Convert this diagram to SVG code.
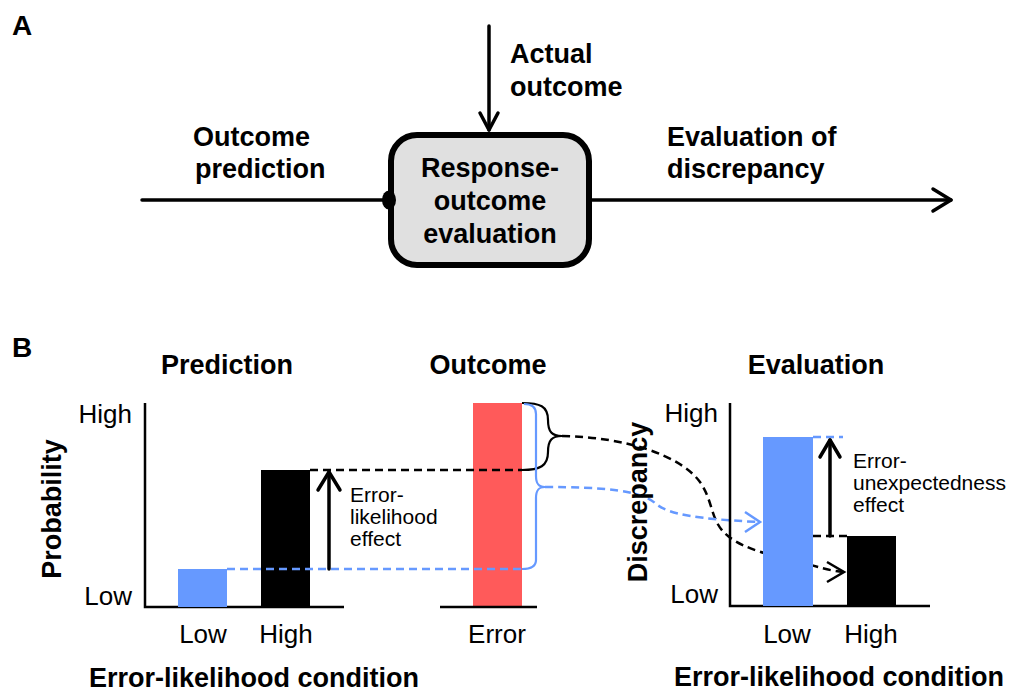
<svg xmlns="http://www.w3.org/2000/svg" width="1019" height="694" viewBox="0 0 1019 694">
<style>
text{font-family:"Liberation Sans",Arial,sans-serif;fill:#000}
.b{font-weight:bold;font-size:27px}
.lbl{font-size:26px}
.sm{font-size:21px}
.mid{text-anchor:middle}
.end{text-anchor:end}
.ln{fill:none;stroke:#000;stroke-width:3.5;stroke-linecap:round;stroke-linejoin:round}
.ax{fill:none;stroke:#000;stroke-width:2.5}
.dk{fill:none;stroke:#000;stroke-width:2.5;stroke-dasharray:8 5}
.db{fill:none;stroke:#6699ff;stroke-width:2.5;stroke-dasharray:8 5}
.thin{fill:none;stroke:#000;stroke-width:2.2}
.thinb{fill:none;stroke:#6699ff;stroke-width:2.2}
.blue{fill:#6699ff}
.red{fill:#ff5a5a}
</style>
<rect width="1019" height="694" fill="#fff"/>

<!-- Panel A -->
<text class="b" x="12" y="35" style="font-size:28px">A</text>
<g id="connectors-a">
  <path class="ln" d="M142,200 H388"/>
  <path class="ln" d="M592,200 H951"/>
  <path class="ln" d="M933,189 L951,200 L933,211"/>
  <path class="ln" d="M489,26 V130"/>
  <path class="ln" d="M480,113 L489,130 L498,113"/>
</g>
<g id="node-evaluation">
  <rect x="391" y="135" width="198" height="130" rx="26" fill="#e0e0e0" stroke="#000" stroke-width="6"/>
  <ellipse cx="389" cy="200" rx="7" ry="9.5" fill="#000"/>
  <text class="b mid" x="490" y="177">Response-</text>
  <text class="b mid" x="490" y="210">outcome</text>
  <text class="b mid" x="490" y="243">evaluation</text>
</g>
<g id="label-actual">
  <text class="b" x="510" y="63">Actual</text>
  <text class="b" x="510" y="96">outcome</text>
</g>
<g id="label-prediction">
  <text class="b" x="193" y="146">Outcome</text>
  <text class="b" x="195" y="178">prediction</text>
</g>
<g id="label-evaluation">
  <text class="b" x="667" y="146">Evaluation of</text>
  <text class="b" x="667" y="178">discrepancy</text>
</g>

<!-- Panel B -->
<text class="b" x="12" y="357" style="font-size:28px">B</text>
<text class="b mid" x="227" y="374">Prediction</text>
<text class="b mid" x="488" y="374">Outcome</text>
<text class="b mid" x="816" y="374">Evaluation</text>

<g id="chart-prediction">
  <path class="ax" d="M145,403 V607 H344"/>
  <text class="lbl end" x="132" y="423">High</text>
  <text class="lbl end" x="132" y="605">Low</text>
  <text class="b mid" transform="translate(61,509) rotate(-90)">Probability</text>
  <rect class="blue" x="178" y="569" width="49" height="38"/>
  <rect x="261" y="470" width="49" height="137" fill="#000"/>
  <text class="lbl mid" x="203" y="643">Low</text>
  <text class="lbl mid" x="286" y="643">High</text>
  <text class="b mid" x="254" y="687">Error-likelihood condition</text>
  <text class="sm" x="350" y="502">Error-</text>
  <text class="sm" x="350" y="524">likelihood</text>
  <text class="sm" x="350" y="546">effect</text>
</g>

<g id="chart-outcome">
  <rect class="red" x="473" y="403" width="49" height="204"/>
  <path class="ax" d="M440,607 H537"/>
  <text class="lbl mid" x="497" y="643">Error</text>
</g>

<g id="connectors-b">
  <path class="dk" d="M310,470 H522"/>
  <path class="db" d="M227,569 H522"/>
  <path class="ln" d="M329,569 V472"/>
  <path class="ln" d="M318,490 L329,472 L340,490"/>
  <path class="thin" d="M522,403 C540,403 548,406 548,420 C548,432 552,436 562,436 C552,436 548,440 548,452 C548,466 540,470 522,470"/>
  <path class="thinb" d="M524,404 C532,404 536,407 536,414 V476 C536,483 538,487 545,487 C538,487 536,491 536,498 V560 C536,566 532,569 522,569"/>
  <path class="dk" d="M562,436 C625,437 680,455 700,482 C714,502 710,522 728,536 C745,550 775,556 800,562 C815,566 830,571 843,572"/>
  <path class="db" d="M545,487 C600,487 640,490 655,503 C668,515 700,519 758,522"/>
  <path fill="none" stroke="#6699ff" stroke-width="2.5" d="M745,512 L760,522 L745,532"/>
  <path fill="none" stroke="#000" stroke-width="2.5" d="M827,562 L844,572 L827,582"/>
</g>

<g id="chart-evaluation">
  <path class="ax" d="M730,403 V606 H930"/>
  <text class="lbl end" x="718" y="422">High</text>
  <text class="lbl end" x="718" y="603">Low</text>
  <text class="b mid" transform="translate(647,502) rotate(-90)">Discrepancy</text>
  <rect class="blue" x="763" y="437" width="50" height="169"/>
  <rect x="847" y="536" width="49" height="70" fill="#000"/>
  <path class="db" d="M813,437 H843"/>
  <path class="dk" d="M813,536 H847"/>
  <path class="ln" d="M830,536 V440"/>
  <path class="ln" d="M820,457 L830,440 L840,457"/>
  <text class="sm" x="853" y="468">Error-</text>
  <text class="sm" x="853" y="490">unexpectedness</text>
  <text class="sm" x="853" y="512">effect</text>
  <text class="lbl mid" x="787" y="643">Low</text>
  <text class="lbl mid" x="871" y="643">High</text>
  <text class="b mid" x="839" y="686">Error-likelihood condition</text>
</g>
</svg>
